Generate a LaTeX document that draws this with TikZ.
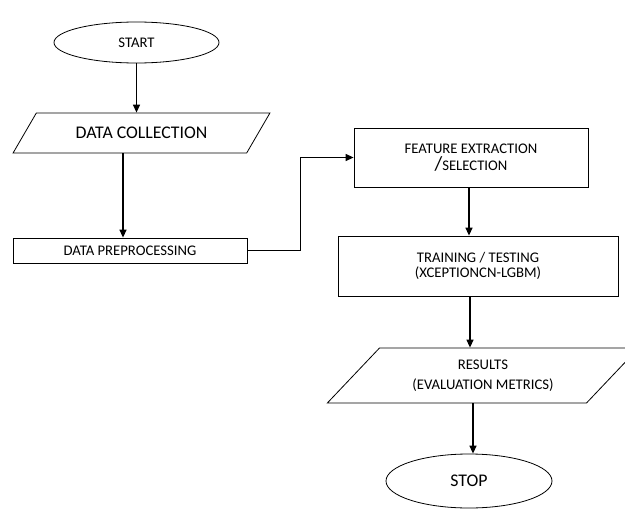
\documentclass[tikz,border=0pt]{standalone}
\usepackage{fontspec}
\setmainfont{Carlito}
\usepackage{tikz}
\usetikzlibrary{shapes.geometric, arrows.meta, positioning, calc}
\newcommand{\smalltxt}{\fontsize{14.7}{15}\selectfont}
\newcommand{\bigtxt}{\fontsize{17.8}{20}\selectfont}
\tikzset{
  termnode/.style={ellipse, draw, line width=0.8pt, inner sep=0pt},
  procbox/.style={rectangle, draw, line width=0.8pt, align=center, inner sep=0pt},
  iobox/.style={trapezium, trapezium stretches=true, draw, line width=0.8pt,
    align=center, inner sep=0pt},
  arrow/.style={-{Triangle[width=7pt,length=8pt]}, line width=1.3pt},
  line/.style={line width=1.3pt}
}

\begin{document}
\begin{tikzpicture}[x=1pt, y=-1pt]
  \useasboundingbox (0,0) rectangle (625,509);

  % ── Left column ───────────────────────────────────────────────────────────
  \node[termnode, minimum width=165, minimum height=41, font=\smalltxt] (start) at (136.5,42.5) {START};
  \node[iobox, trapezium left angle=38.7, trapezium right angle=141.3,
    minimum width=257, minimum height=40, font=\bigtxt] (collect) at (141.5,133) {DATA COLLECTION};
  \node[procbox, minimum width=234, minimum height=25, font=\smalltxt] (prep) at (130,250.5) {DATA PREPROCESSING};

  % ── Right column ──────────────────────────────────────────────────────────
  \node[procbox, minimum width=234, minimum height=59, font=\smalltxt] (feat) at (471,157.5)
    {FEATURE EXTRACTION\\[2pt]{\fontsize{20}{20}\selectfont/}SELECTION};
  \node[procbox, minimum width=280, minimum height=60, font=\smalltxt] (train) at (478,266)
    {TRAINING / TESTING\\(XCEPTIONCN-LGBM)};
  \node[iobox, trapezium left angle=41.6, trapezium right angle=138.4,
    minimum width=312, minimum height=55, font=\smalltxt] (res) at (483,375.5)
    {RESULTS\\[5pt](EVALUATION METRICS)};
  \node[termnode, minimum width=166, minimum height=54, font=\bigtxt] (stop) at (469,481) {STOP};

  % ── Connectors ────────────────────────────────────────────────────────────
  \draw[arrow] (start.south) -- (start.south |- collect.north);
  \draw[arrow] ([xshift=-7pt]prep.north |- collect.south) -- ([xshift=-7pt]prep.north);
  \draw[arrow] (prep.east) -- ++(53,0) |- (feat.west);
  \draw[arrow] ([xshift=-2pt]feat.south) -- ([xshift=-2pt]feat.south |- train.north);
  \draw[arrow] ([xshift=-8pt]train.south) -- ([xshift=-8pt]train.south |- res.north);
  \draw[arrow] ([xshift=4pt]stop.north |- res.south) -- ([xshift=4pt]stop.north);
\end{tikzpicture}
\end{document}
